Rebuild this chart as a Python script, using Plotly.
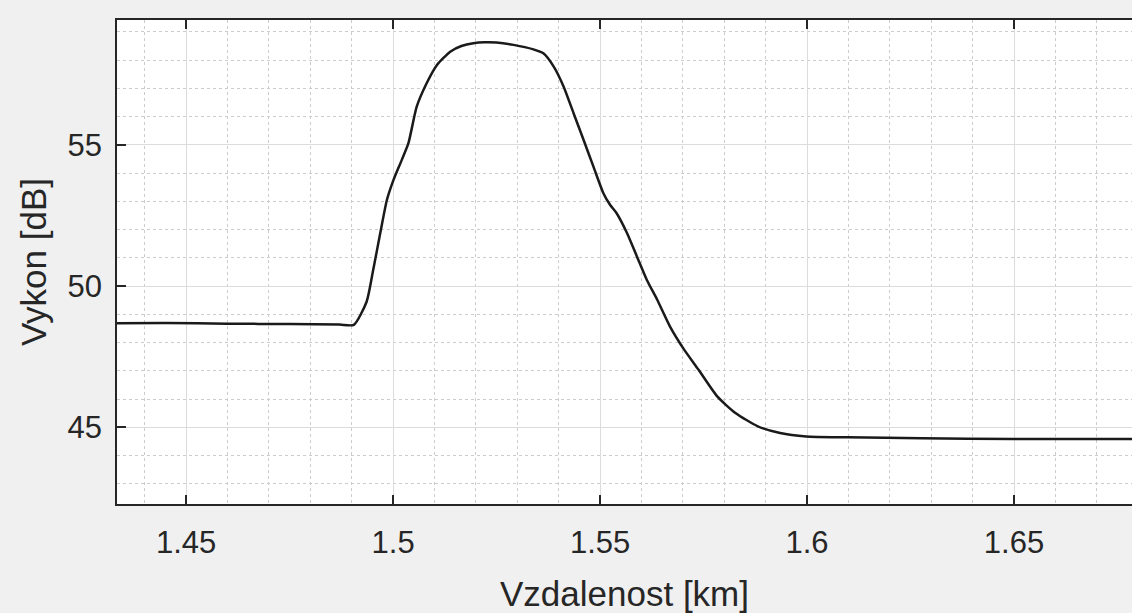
import plotly.graph_objects as go

# Distance along the fibre [km] and received power [dB]
distance_km = [1.4333, 1.445, 1.46, 1.475, 1.4870, 1.4905, 1.4936, 1.4952, 1.4969, 1.4985,
               1.5001, 1.5021, 1.5037, 1.5057, 1.5081, 1.5106, 1.5138, 1.5165, 1.5194, 1.5222,
               1.5250, 1.5291, 1.5339, 1.5363, 1.5388, 1.5412, 1.5436, 1.5460, 1.5484, 1.5508,
               1.5524, 1.5540, 1.5565, 1.5589, 1.5613, 1.5638, 1.5669, 1.5701, 1.5738, 1.5783,
               1.5827, 1.5881, 1.5935, 1.5998, 1.6097, 1.6276, 1.6500, 1.6800]
power_db = [48.69, 48.70, 48.67, 48.66, 48.64, 48.63, 49.45, 50.58, 51.88, 53.05,
            53.76, 54.47, 55.06, 56.35, 57.18, 57.83, 58.30, 58.50, 58.60, 58.63,
            58.62, 58.54, 58.38, 58.24, 57.77, 57.06, 56.12, 55.18, 54.23, 53.29,
            52.88, 52.58, 51.88, 51.05, 50.22, 49.52, 48.57, 47.80, 47.04, 46.10,
            45.51, 45.04, 44.80, 44.68, 44.65, 44.62, 44.59, 44.59]

x_ticks = [1.45, 1.5, 1.55, 1.6, 1.65]
x_tick_text = ["1.45", "1.5", "1.55", "1.6", "1.65"]
y_ticks = [45, 50, 55]
y_tick_text = ["45", "50", "55"]

FONT = "Liberation Sans, Arial, Helvetica, sans-serif"
AXIS_COLOR = "#262626"

fig = go.Figure()
fig.add_trace(go.Scatter(
    x=distance_km, y=power_db, mode="lines",
    line=dict(color="#1a1a1a", width=2.5, shape="spline", smoothing=0.6),
    showlegend=False, hoverinfo="x+y",
))

common = dict(
    showline=True, linecolor=AXIS_COLOR, linewidth=1.5,
    ticks="inside", ticklen=9, tickwidth=1.5, tickcolor=AXIS_COLOR,
    showgrid=True, gridcolor="#dcdcdc", gridwidth=1,
    zeroline=False,
    tickfont=dict(family=FONT, size=31, color=AXIS_COLOR),
)

fig.update_xaxes(
    **common,
    range=[1.4333, 1.6785],
    tickvals=x_ticks, ticktext=x_tick_text,
    mirror="ticks",
    minor=dict(dtick=0.01, tick0=0, showgrid=True, gridcolor="#cccccc",
               griddash="3px,3px", gridwidth=1),
    title=dict(text="Vzdalenost [km]", font=dict(family=FONT, size=35, color=AXIS_COLOR),
               standoff=24),
    ticklabelstandoff=10,
)
fig.update_yaxes(
    **common,
    range=[42.29, 59.42],
    tickvals=y_ticks, ticktext=y_tick_text,
    mirror=False,
    minor=dict(dtick=1, tick0=0, showgrid=True, gridcolor="#cccccc",
               griddash="3px,3px", gridwidth=1),
    title=dict(text="Vykon [dB]", font=dict(family=FONT, size=35, color=AXIS_COLOR),
               standoff=10),
    ticklabelstandoff=7,
)

fig.update_layout(
    width=1132, height=613,
    margin=dict(l=117, r=0, t=20, b=109, autoexpand=False),
    paper_bgcolor="#f0f0f0",
    plot_bgcolor="#ffffff",
    font=dict(family=FONT, color=AXIS_COLOR),
)

fig.write_html("out.html")
